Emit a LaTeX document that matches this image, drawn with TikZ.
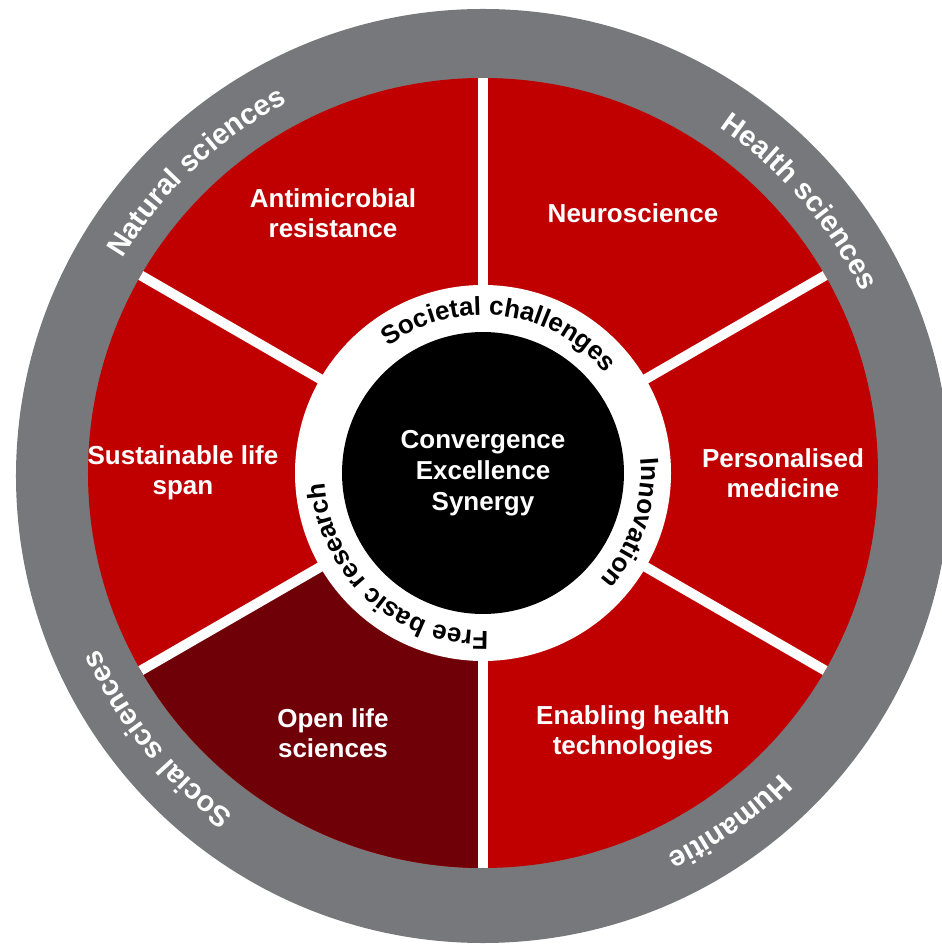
\documentclass[tikz,border=0pt]{standalone}
\usepackage{fontspec}
\setmainfont{Liberation Sans}
\usetikzlibrary{decorations.text}
\definecolor{wheelred}{RGB}{192,0,0}
\definecolor{darkred}{RGB}{112,0,8}
\definecolor{ringgray}{RGB}{119,120,123}
\newcommand{\outerfont}{\fontsize{16.5pt}{19pt}\selectfont\bfseries\color{white}}
\newcommand{\innerfont}{\fontsize{14.8pt}{17pt}\selectfont\bfseries\color{black}}

\begin{document}
\begin{tikzpicture}[x=0.02cm, y=0.02cm,
    seglabel/.style={text=white, font=\fontsize{14.8pt}{17.1pt}\selectfont\bfseries, align=center},
    divider/.style={white, line width=0.2cm},
    outertext/.style={decorate, decoration={text along path, text align=center, text={|\outerfont|#1}}},
    innertext/.style={decorate, decoration={text along path, text align=center, text={|\innerfont|#1}}}]
    \useasboundingbox (-483,-472) rectangle (458,473);

    % Anillo exterior
    \fill[ringgray] (0,-3) circle[radius=467];

    % Sectores
    \fill[wheelred] (0,0) circle[radius=395];
    \fill[darkred] (0,0) -- (210:395) arc[start angle=210, end angle=270, radius=395] -- cycle;
    \foreach \a in {30,90,...,330}
        \draw[divider] (0,0) -- (\a:395);

    % Centro
    \fill[white] (0,0) circle[radius=188];
    \node[circle, fill=black, minimum size=5.64cm, inner sep=0pt, text=white,
          font=\fontsize{14.8pt}{17.6pt}\selectfont\bfseries, align=center] (core) at (0,0)
          {Convergence\\Excellence\\Synergy};

    % Temas
    \node[seglabel] (amr) at (120:300) {Antimicrobial\\resistance};
    \node[seglabel] (neuro) at (60:300) {Neuroscience};
    \node[seglabel] (pers) at (0:300) {Personalised\\medicine};
    \node[seglabel] (enab) at (300:300) {Enabling health\\technologies};
    \node[seglabel] (open) at (240:300) {Open life\\sciences};
    \node[seglabel] (susl) at (180:300) {Sustainable life\\span};

    % Textos del anillo blanco
    \path[innertext=Societal challenges] (143:158) arc[start angle=143, end angle=23, radius=158];
    \path[innertext=Innovation] (41.5:158) arc[start angle=41.5, end angle=-78.5, radius=158];
    \path[innertext=Free basic research] (287.7:158) arc[start angle=287.7, end angle=167.7, radius=158];

    % Textos del anillo gris
    \begin{scope}[shift={(0,-3)}]
        \path[outertext=Natural sciences] (168.3:421) arc[start angle=168.3, end angle=98.3, radius=421];
        \path[outertext=Health sciences] (75.9:421) arc[start angle=75.9, end angle=5.9, radius=421];
        \path[outertext=Social sciences] (253.9:421) arc[start angle=253.9, end angle=183.9, radius=421];
        \path[outertext=Humanitie] (-19.5:421) arc[start angle=-19.5, end angle=-89.5, radius=421];
    \end{scope}
\end{tikzpicture}
\end{document}
